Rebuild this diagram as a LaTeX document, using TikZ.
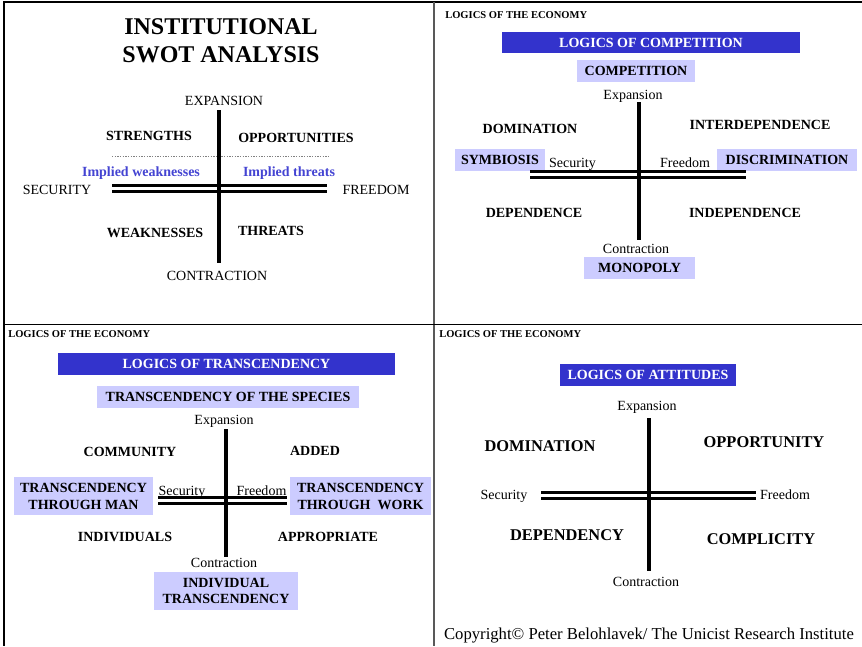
\documentclass[tikz,border=0pt]{standalone}
\usepackage{fontspec}
\setmainfont{Liberation Serif}
\definecolor{barblue}{RGB}{51,51,204}
\definecolor{tagblue}{RGB}{204,204,255}
\definecolor{impblue}{RGB}{68,68,210}
\begin{document}
\begin{tikzpicture}[x=0.75pt,y=-0.75pt,
  lbl/.style={inner sep=0pt, text depth=0pt, font=\fontsize{10.5}{12.6}\selectfont},
  key/.style={lbl, font=\fontsize{10.5}{12.6}\selectfont\bfseries},
  bigkey/.style={lbl, font=\fontsize{12.3}{14}\selectfont\bfseries},
  implied/.style={key, text=impblue},
  hdr/.style={anchor=west, inner sep=0pt, text depth=0pt, font=\fontsize{7.9}{9}\selectfont\bfseries},
  titlebar/.style={fill=barblue, text=white, inner sep=0pt, font=\fontsize{10.5}{12.6}\selectfont\bfseries},
  tag/.style={fill=tagblue, inner sep=0pt, align=center, font=\fontsize{10.5}{12.75}\selectfont\bfseries},
  axis/.style={line width=2.4pt},
  rail/.style={line width=2.3pt},
  frameline/.style={line width=1.5pt}
]
\useasboundingbox (0,0) rectangle (862,646);

% ---------- frame and panel dividers ----------
\coordinate (fTL) at (3,2.3);
\coordinate (fTR) at (862,2.3);
\coordinate (fLT) at (4,1.5);
\coordinate (fLB) at (4,646);
\coordinate (dVT) at (434,2);
\coordinate (dVB) at (434,646);
\coordinate (dHL) at (3,324.5);
\coordinate (dHR) at (862,324.5);
\draw[frameline] (fTL) -- (fTR);
\draw[frameline] (fLT) -- (fLB);
\draw[line width=1.2pt, black!65] (dVT) -- (dVB);
\draw[line width=1.2pt] (dHL) -- (dHR);

% ---------- panel 1: institutional SWOT ----------
\node[font=\fontsize{18}{21}\selectfont\bfseries, align=center, inner sep=0pt] (swottitle) at (221,41) {INSTITUTIONAL\\SWOT ANALYSIS};
\node[lbl] (exp1) at (224,100.5) {EXPANSION};
\node[key] (str) at (149,135.5) {STRENGTHS};
\node[key] (opp) at (296,137.5) {OPPORTUNITIES};
\coordinate (dotL) at (112,156);
\coordinate (dotR) at (330,156);
\draw[gray, line width=0.4pt, dash pattern=on 1pt off 1pt] (dotL) -- (dotR);
\node[implied] (impw) at (141,171.5) {Implied weaknesses};
\node[implied] (impt) at (289,171.5) {Implied threats};
\node[lbl] (sec1) at (57,189.5) {SECURITY};
\node[lbl] (fre1) at (376,189.5) {FREEDOM};
\node[key] (weak) at (155,232.5) {WEAKNESSES};
\node[key] (thr) at (271,230.5) {THREATS};
\node[lbl] (con1) at (217,275.5) {CONTRACTION};
\coordinate (r1aL) at (112,185.8);
\coordinate (r1aR) at (327,185.8);
\coordinate (r1bL) at (112,191.7);
\coordinate (r1bR) at (327,191.7);
\coordinate (v1T) at (219,110);
\coordinate (v1B) at (219,263);
\draw[rail] (r1aL) -- (r1aR);
\draw[rail] (r1bL) -- (r1bR);
\draw[axis] (v1T) -- (v1B);

% ---------- panel 2: logics of competition ----------
\node[hdr] (hdr2) at (445,15) {LOGICS OF THE ECONOMY};
\node[titlebar, minimum width=223.5pt, minimum height=15.75pt] (bar2) at (651,42.5) {LOGICS OF COMPETITION};
\node[tag, minimum width=88.5pt, minimum height=16.5pt] (compet) at (636,71) {COMPETITION};
\node[lbl] (exp2) at (633,94.5) {Expansion};
\node[key] (dom2) at (530,128.5) {DOMINATION};
\node[key] (inter) at (760,124.5) {INTERDEPENDENCE};
\node[tag, minimum width=67.5pt, minimum height=16.5pt] (symb) at (500,160) {SYMBIOSIS};
\node[lbl] (sec2) at (572.5,162.5) {Security};
\node[lbl] (fre2) at (685,162.5) {Freedom};
\node[tag, minimum width=105pt, minimum height=16.5pt] (discr) at (787,160) {DISCRIMINATION};
\node[key] (dep2) at (534,212.5) {DEPENDENCE};
\node[key] (indep) at (745,212.5) {INDEPENDENCE};
\node[lbl] (con2) at (636,248.5) {Contraction};
\node[tag, minimum width=83.25pt, minimum height=16.5pt] (monop) at (639.5,268) {MONOPOLY};
\coordinate (r2aL) at (530,171.3);
\coordinate (r2aR) at (746,171.3);
\coordinate (r2bL) at (530,177.5);
\coordinate (r2bR) at (746,177.5);
\coordinate (v2T) at (639,102);
\coordinate (v2B) at (639,240);
\draw[line width=2pt] (r2aL) -- (r2aR);
\draw[line width=2.7pt] (r2bL) -- (r2bR);
\draw[axis] (v2T) -- (v2B);

% ---------- panel 3: logics of transcendency ----------
\node[hdr] (hdr3) at (8,334) {LOGICS OF THE ECONOMY};
\node[titlebar, minimum width=252.75pt, minimum height=16.5pt] (bar3) at (226.5,364) {LOGICS OF TRANSCENDENCY};
\node[tag, minimum width=196.5pt, minimum height=16.5pt] (species) at (228,397) {TRANSCENDENCY OF THE SPECIES};
\node[lbl] (exp3) at (224,419.5) {Expansion};
\node[key] (commun) at (130,451.5) {COMMUNITY};
\node[key] (added) at (315,450.5) {ADDED};
\node[tag, minimum width=104.25pt, minimum height=28.5pt] (tman) at (83.5,496) {TRANSCENDENCY\\THROUGH MAN};
\node[lbl] (sec3) at (182,490.5) {Security};
\node[lbl] (fre3) at (261.5,490.5) {Freedom};
\node[tag, minimum width=105.75pt, minimum height=28.5pt] (twork) at (360.5,496) {TRANSCENDENCY\\THROUGH\ \ WORK};
\node[key] (indiv) at (125,536.5) {INDIVIDUALS};
\node[key] (approp) at (328,536.5) {APPROPRIATE};
\node[lbl] (con3) at (224,562.5) {Contraction};
\node[tag, minimum width=108pt, minimum height=28.5pt, font=\fontsize{10.5}{12}\selectfont\bfseries] (indtr) at (226,591) {INDIVIDUAL\\TRANSCENDENCY};
\coordinate (r3aL) at (158,497.3);
\coordinate (r3aR) at (287,497.3);
\coordinate (r3bL) at (158,503.5);
\coordinate (r3bR) at (287,503.5);
\coordinate (v3T) at (226,429);
\coordinate (v3B) at (226,557);
\draw[line width=2pt] (r3aL) -- (r3aR);
\draw[rail] (r3bL) -- (r3bR);
\draw[axis] (v3T) -- (v3B);

% ---------- panel 4: logics of attitudes ----------
\node[hdr] (hdr4) at (439,334) {LOGICS OF THE ECONOMY};
\node[titlebar, minimum width=132pt, minimum height=16.5pt] (bar4) at (648,375) {LOGICS OF ATTITUDES};
\node[lbl] (exp4) at (647,405.5) {Expansion};
\node[bigkey] (dom4) at (540,446.5) {DOMINATION};
\node[bigkey] (oppty) at (764,442.5) {OPPORTUNITY};
\node[lbl] (sec4) at (504,494.5) {Security};
\node[lbl] (fre4) at (785,494.5) {Freedom};
\node[bigkey] (dep4) at (567,535.5) {DEPENDENCY};
\node[bigkey] (compl) at (761,539.5) {COMPLICITY};
\node[lbl] (con4) at (646,581.5) {Contraction};
\node[inner sep=0pt, text depth=0pt, font=\fontsize{12.5}{14}\selectfont] (copy) at (649,633.5) {Copyright© Peter Belohlavek/ The Unicist Research Institute};
\coordinate (r4aL) at (541,492.8);
\coordinate (r4aR) at (756,492.8);
\coordinate (r4bL) at (541,498.5);
\coordinate (r4bR) at (756,498.5);
\coordinate (v4T) at (649,418);
\coordinate (v4B) at (649,571);
\draw[rail] (r4aL) -- (r4aR);
\draw[rail] (r4bL) -- (r4bR);
\draw[axis] (v4T) -- (v4B);
\end{tikzpicture}
\end{document}
